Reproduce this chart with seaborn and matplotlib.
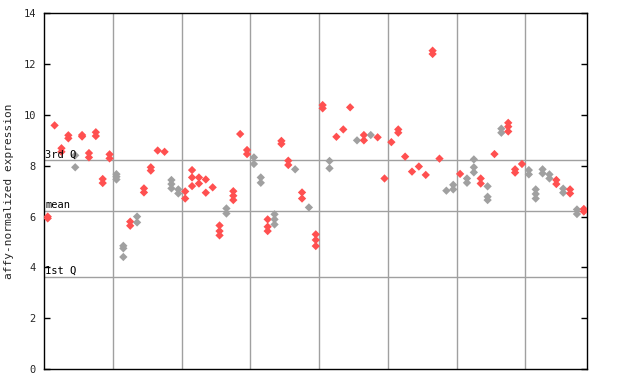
import pandas as pd
import seaborn as sns
import matplotlib.pyplot as plt
import matplotlib.transforms as mtransforms

# values: one list of replicate diamonds per sample position
sample_values = [
    [5.93, 6.0], [9.59], [8.69, 8.55], [9.2, 9.08], [8.41, 7.94],
    [9.21, 9.15], [8.5, 8.33], [9.32, 9.17], [7.48, 7.32], [8.45, 8.29],
    [7.67, 7.57, 7.46], [4.85, 4.75, 4.41], [5.8, 5.64], [6.0, 5.77], [7.11, 6.95],
    [7.94, 7.81], [8.6], [8.55], [7.44, 7.28, 7.11], [7.07, 6.91],
    [6.99, 6.71], [7.83, 7.54, 7.2], [7.54, 7.3], [7.46, 6.94], [7.15],
    [5.65, 5.43, 5.26], [6.32, 6.12], [7.0, 6.82, 6.65], [9.25], [8.62, 8.46],
    [8.33, 8.07], [7.54, 7.33], [5.89, 5.6, 5.43], [6.09, 5.89, 5.69], [8.98, 8.86],
    [8.2, 8.03], [7.86], [6.95, 6.71], [6.36], [5.3, 5.08, 4.84],
    [10.39, 10.26], [8.19, 7.9], [9.14], [9.43], [10.3],
    [9.0], [9.21, 9.0], [9.21], [9.12], [7.5],
    [8.93], [9.43, 9.3], [8.36], [7.77], [7.97],
    [7.64], [12.53, 12.4], [8.28], [7.02], [7.25, 7.07],
    [7.68], [7.5, 7.33], [8.25, 7.94, 7.74], [7.5, 7.3], [7.19, 6.78, 6.65],
    [8.46], [9.46, 9.3], [9.69, 9.54, 9.35], [7.86, 7.73], [8.07],
    [7.83, 7.66], [7.07, 6.89, 6.71], [7.86, 7.7], [7.66, 7.5], [7.44, 7.28],
    [7.1, 6.94], [7.07, 6.91], [6.28, 6.1], [6.3, 6.2],
]

# r = red diamonds, g = grey diamonds
sample_colors = list(
    "rrrrgrrrrr"
    "ggrgrrrrgg"
    "rrrrrrgrrr"
    "ggrgrrgrgr"
    "rgrrrgrgrr"
    "rrrrrrrrgg"
    "rggrgrgrrr"
    "ggggrgrgr"
)

q1, mean_val, q3 = 3.62, 6.22, 8.21
y_ticks = [0, 2, 4, 6, 8, 10, 12, 14]

rows = []
for i, (vals, c) in enumerate(zip(sample_values, sample_colors)):
    for v in vals:
        rows.append({"pos": i, "value": v, "col": c})
df = pd.DataFrame(rows)

sns.set_style("white")
plt.rcParams["font.family"] = ["DejaVu Sans Mono"]

fig = plt.figure(figsize=(6.4, 3.84), dpi=100)
ax = fig.add_axes([0.0692, 0.039, 0.8484, 0.9263])

# group separators and quartile lines
for xv in range(10, 71, 10):
    ax.axvline(xv - 0.5, color="#a0a0a0", lw=1, zorder=0)
for yv in (q1, mean_val, q3):
    ax.axhline(yv, color="#a0a0a0", lw=1, zorder=0)

sns.scatterplot(data=df, x="pos", y="value", hue="col",
                palette={"r": "#ff5050", "g": "#a0a0a0"},
                marker="D", s=18, linewidth=0, legend=False, ax=ax, zorder=3)

ax.set_xlim(-0.5, len(sample_values) - 0.5)
ax.set_ylim(0, 14)
ax.set_xticks([])
ax.set_yticks(y_ticks)
ax.set_yticklabels([str(t) for t in y_ticks], fontsize=7.5)
ax.tick_params(axis="y", direction="in", length=4, width=1, pad=6,
               left=True, right=True, color="black")
ax.set_xlabel("")
ax.set_ylabel("affy-normalized expression", fontsize=8, labelpad=7)

for sp in ax.spines.values():
    sp.set_color("black")
    sp.set_linewidth(1)

trans = mtransforms.blended_transform_factory(ax.transAxes, ax.transData)
for label, yv in (("3rd Q", q3), ("mean", mean_val), ("1st Q", q1)):
    ax.text(0.002, yv + 0.04, label, transform=trans, fontsize=7.5,
            va="bottom", ha="left", color="black")

fig.savefig("out.png", dpi=100)
